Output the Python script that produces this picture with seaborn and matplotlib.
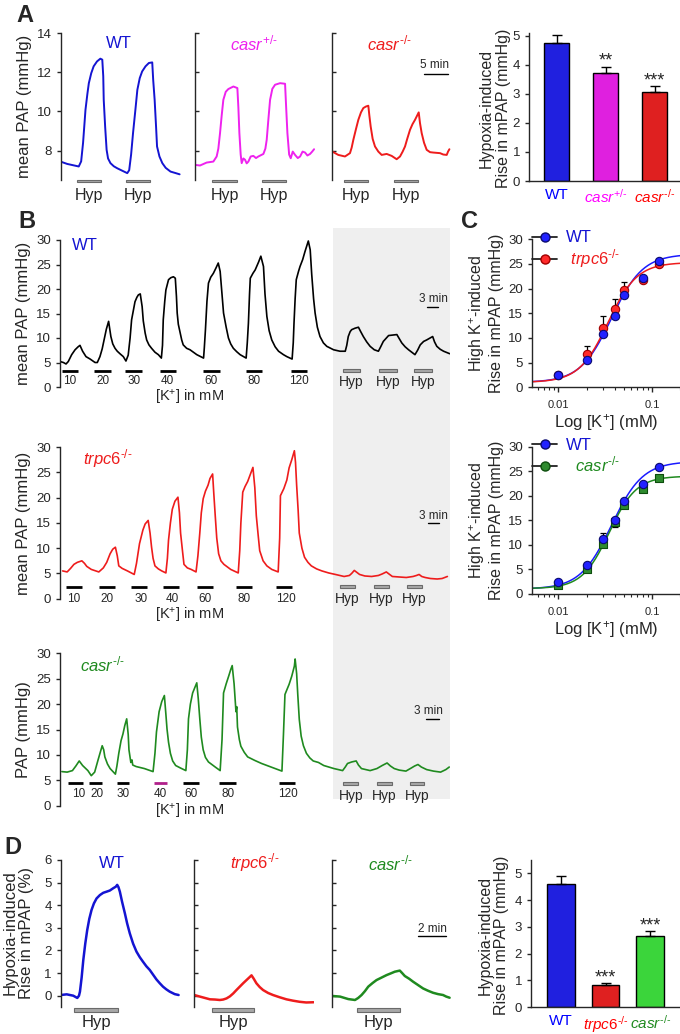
import numpy as np
import matplotlib
matplotlib.use("Agg")
import matplotlib.pyplot as plt
from matplotlib.patches import Rectangle
from matplotlib.lines import Line2D
from matplotlib.ticker import LogLocator, NullFormatter
import seaborn as sns

sns.set_style("ticks")
plt.rcParams["font.family"] = ["Liberation Sans", "DejaVu Sans"]
plt.rcParams["mathtext.fontset"] = "custom"
plt.rcParams["mathtext.rm"] = "Liberation Sans"
plt.rcParams["mathtext.it"] = "Liberation Sans:italic"
plt.rcParams["mathtext.bf"] = "Liberation Sans:bold"
plt.rcParams["axes.linewidth"] = 1.0

BLUE = "#1414d2"
MAG = "#ee22ee"
RED = "#ee1c1c"
GREEN = "#1f8a1f"
LGREEN = "#22ee22"
BAR_GRAY = "#a8a8a8"

# ---------------- panel A traces: (time in min, mean PAP in mmHg)
a_wt = [(0, 7.44), (1.4, 7.32), (3.8, 7.19), (4.3, 7.45), (4.7, 8.4), (5.2, 10.08), (5.6, 10.9),
        (5.9, 11.44), (6.4, 11.95), (6.9, 12.3), (7.6, 12.55), (8.3, 12.69), (8.7, 12.64),
        (8.9, 11.8), (9.0, 10.59), (9.3, 9.2), (9.6, 8.04), (9.9, 7.6), (10.4, 7.36), (11.1, 7.2),
        (11.8, 7.1), (12.8, 6.98), (13.9, 6.85), (14.3, 7.0), (14.7, 7.8), (15.1, 8.89),
        (15.6, 10.1), (16.0, 11.1), (16.5, 11.7), (17.0, 12.04), (17.7, 12.3), (18.4, 12.47),
        (19.1, 12.5), (19.3, 11.6), (19.6, 10.59), (19.9, 9.2), (20.1, 8.21), (20.6, 7.7),
        (21.2, 7.36), (21.9, 7.12), (22.9, 6.93), (24.0, 6.85), (24.8, 6.79)]
a_het = [(0, 7.27), (1.04, 7.24), (2.43, 7.39), (3.82, 7.44), (4.51, 7.7), (4.86, 8.1),
         (5.21, 8.89), (5.56, 9.8), (5.9, 10.59), (6.4, 11.0), (6.94, 11.14), (7.99, 11.27),
         (8.82, 11.19), (9.03, 10.2), (9.24, 8.89), (9.51, 7.8), (9.72, 7.36), (10.07, 7.6),
         (10.42, 7.53), (10.76, 7.35), (11.11, 7.44), (11.6, 7.7), (12.15, 7.73), (12.7, 7.62),
         (13.19, 7.7), (14.24, 7.83), (14.65, 8.1), (14.93, 8.55), (15.28, 9.6), (15.63, 10.59),
         (16.1, 11.15), (16.67, 11.36), (17.71, 11.44), (18.75, 11.41), (18.96, 10.3),
         (19.24, 8.89), (19.6, 7.8), (19.93, 7.61), (20.35, 7.95), (20.83, 7.78), (21.4, 7.62),
         (21.88, 7.7), (22.4, 7.95), (22.92, 7.9), (23.4, 7.75), (23.96, 7.83), (24.4, 7.95),
         (24.79, 8.07)]
a_ko = [(0, 7.95), (1.25, 7.78), (2.64, 7.7), (3.68, 7.87), (4.03, 8.15), (4.38, 8.55),
        (4.93, 9.1), (5.42, 9.57), (5.97, 9.95), (6.46, 10.17), (7.01, 10.25), (7.5, 10.29),
        (7.71, 9.8), (7.99, 9.23), (8.4, 8.6), (8.89, 8.21), (9.58, 7.95), (10.28, 7.78),
        (11.32, 7.83), (12.36, 7.73), (13.4, 7.56), (14.1, 7.7), (14.65, 7.95), (15.14, 8.21),
        (15.6, 8.6), (16.18, 9.06), (16.7, 9.35), (17.22, 9.57), (17.99, 9.95), (18.26, 9.4),
        (18.61, 8.89), (19.1, 8.4), (19.65, 8.04), (20.35, 7.92), (21.04, 7.9), (22.43, 7.87),
        (23.1, 7.8), (23.82, 7.78), (24.1, 7.95), (24.38, 8.07)]
a_hyp = [[(3.5, 8.5), (13.6, 18.6)], [(3.6, 8.7), (13.9, 18.9)], [(2.5, 7.5), (12.9, 17.9)]]

# panel A bars
a_groups = ["WT", "casr+/-", "casr-/-"]
a_labels = ["WT", r"$\mathit{casr}^{\text{+/-}}$", r"$\mathit{casr}^{\text{-/-}}$"]
a_vals = [4.75, 3.72, 3.07]
a_err = [0.27, 0.21, 0.19]
a_stars = ["", "**", "***"]

# ---------------- panel B traces: (time in min, PAP in mmHg)
b_wt = [(0.0, 5.2), (0.9, 5.0), (1.6, 4.7), (2.2, 5.2), (3.1, 6.6), (4.0, 7.6), (4.8, 8.2),
        (5.3, 8.5), (6.0, 7.3), (6.9, 6.2), (8.0, 5.7), (9.3, 5.0), (9.9, 5.0), (10.6, 6.2),
        (11.2, 7.8), (11.7, 9.6), (12.3, 11.8), (12.9, 13.4), (13.5, 10.3), (14.0, 8.8),
        (14.6, 7.9), (15.2, 7.3), (15.9, 6.8), (16.8, 6.2), (17.5, 5.3), (18.1, 6.5), (18.6, 10.0),
        (19.0, 13.7), (19.5, 15.8), (19.9, 17.4), (20.4, 18.3), (20.8, 18.8), (21.3, 19.0),
        (21.8, 16.4), (22.1, 13.5), (22.6, 11.0), (23.0, 9.6), (23.6, 8.6), (24.3, 7.9),
        (25.2, 7.1), (26.1, 6.6), (26.9, 5.9), (27.2, 8.5), (27.4, 13.7), (27.8, 17.5),
        (28.1, 19.8), (28.8, 21.9), (29.4, 22.3), (30.1, 22.5), (30.6, 22.2), (30.9, 18.5),
        (31.1, 15.1), (31.4, 12.8), (31.9, 11.0), (32.3, 9.6), (32.7, 8.6), (33.6, 7.9),
        (34.5, 7.6), (36.3, 6.6), (38.1, 5.9), (38.3, 8.0), (38.6, 11.7), (39.0, 17.5),
        (39.4, 21.2), (40.0, 22.4), (40.7, 23.2), (41.4, 24.3), (42.0, 25.3), (42.5, 23.6),
        (43.0, 19.0), (43.4, 15.1), (44.1, 12.2), (44.7, 10.0), (45.3, 8.8), (46.0, 7.9),
        (46.9, 7.2), (47.8, 6.6), (49.4, 5.9), (49.7, 9.0), (50.0, 13.0), (50.3, 19.0),
        (50.5, 22.2), (51.2, 23.2), (51.8, 23.9), (52.7, 25.5), (53.3, 26.7), (54.0, 24.6),
        (54.4, 19.0), (54.9, 14.4), (55.5, 11.5), (56.2, 9.6), (57.1, 8.2), (58.0, 7.3),
        (59.3, 6.6), (60.2, 6.2), (61.6, 5.7), (61.9, 9.0), (62.1, 13.0), (62.4, 18.0),
        (62.7, 21.9), (63.3, 23.6), (63.7, 24.6), (64.4, 26.0), (65.0, 27.6), (65.9, 29.8),
        (66.4, 28.0), (66.8, 23.0), (67.3, 18.0), (67.7, 15.1), (68.3, 12.2), (69.0, 10.3),
        (69.9, 9.0), (70.8, 8.3), (72.6, 7.6), (74.3, 7.3), (75.7, 7.3), (76.1, 8.5), (76.5, 10.3),
        (77.0, 11.3), (77.4, 11.7), (78.3, 12.0), (79.2, 12.2), (79.8, 11.3), (80.5, 10.3),
        (81.4, 9.2), (82.3, 8.3), (83.4, 7.6), (84.5, 7.3), (85.1, 8.2), (85.8, 9.3), (87.2, 10.5),
        (89.4, 10.7), (90.1, 9.8), (90.7, 9.0), (91.6, 8.2), (92.5, 7.6), (94.2, 6.6), (94.9, 7.5),
        (95.6, 8.6), (96.5, 9.3), (97.3, 9.6), (98.9, 10.3), (99.4, 9.2), (100.0, 8.3),
        (100.9, 7.7), (101.8, 7.3), (103.4, 6.8)]
b_trpc6 = [(0.7, 5.5), (1.9, 5.3), (2.8, 6.0), (3.7, 6.8), (4.6, 7.2), (5.8, 7.5), (6.5, 7.0),
           (7.1, 6.4), (8.3, 5.8), (10.3, 5.3), (11.5, 6.1), (12.4, 7.2), (13.3, 8.9), (14.0, 9.8),
           (14.7, 10.2), (15.2, 8.5), (15.6, 6.5), (16.5, 6.0), (17.9, 5.5), (19.7, 4.8),
           (20.3, 7.0), (21.1, 10.9), (22.0, 13.6), (22.6, 14.8), (23.4, 15.5), (23.9, 13.0),
           (24.3, 10.2), (24.7, 8.0), (25.2, 6.5), (26.1, 5.9), (27.0, 5.5), (28.1, 5.1),
           (28.5, 8.0), (28.8, 11.6), (29.3, 15.0), (29.8, 17.7), (30.5, 19.3), (31.3, 20.1),
           (31.7, 17.0), (32.0, 13.0), (32.5, 9.5), (32.9, 6.8), (33.8, 6.1), (34.8, 5.8),
           (36.1, 5.3), (36.6, 8.5), (37.1, 13.0), (37.5, 17.0), (38.0, 19.8), (38.6, 21.3),
           (39.3, 22.5), (39.8, 23.8), (40.5, 24.7), (40.8, 21.0), (41.2, 16.4), (41.6, 12.0),
           (42.1, 8.9), (42.7, 7.5), (43.5, 6.8), (45.3, 5.8), (47.3, 5.1), (47.7, 9.5),
           (48.0, 15.0), (48.5, 21.1), (49.1, 22.2), (49.8, 23.2), (50.6, 24.8), (51.2, 26.0),
           (51.7, 22.0), (52.1, 16.4), (52.6, 12.5), (53.0, 9.5), (53.9, 7.5), (54.9, 6.5),
           (56.2, 5.8), (57.9, 5.3), (58.3, 12.0), (58.5, 20.4), (59.4, 21.8), (60.2, 23.5),
           (60.8, 25.9), (61.5, 27.5), (62.2, 29.3), (62.5, 27.0), (62.8, 22.5), (63.2, 17.5),
           (63.5, 13.0), (64.2, 10.0), (64.9, 8.2), (65.8, 7.2), (66.7, 6.5), (68.1, 5.9),
           (69.5, 5.5), (71.3, 5.1), (73.1, 4.8), (75.4, 4.4), (76.8, 4.6), (77.4, 5.0),
           (78.1, 5.6), (78.8, 5.2), (79.5, 4.8), (80.9, 4.5), (82.7, 4.4), (84.5, 4.6),
           (85.5, 4.9), (86.6, 5.3), (87.3, 4.9), (88.2, 4.4), (90.0, 4.3), (91.9, 4.2),
           (93.7, 4.4), (94.6, 4.6), (95.3, 4.8), (96.0, 4.4), (96.9, 4.2), (98.3, 4.0),
           (100.1, 3.9), (101.4, 4.0), (102.8, 4.4)]
b_casr = [(0.5, 6.7), (1.9, 6.6), (3.3, 6.9), (4.2, 7.8), (5.1, 8.8), (6.0, 7.9), (7.4, 6.9),
          (8.3, 5.9), (9.2, 6.6), (10.1, 9.0), (10.8, 10.8), (11.2, 11.8), (11.6, 11.0),
          (11.9, 9.6), (12.6, 8.2), (13.3, 7.3), (14.7, 6.2), (15.1, 7.8), (15.6, 10.3),
          (16.2, 12.8), (16.7, 14.1), (17.2, 15.8), (17.7, 17.1), (18.1, 14.0), (18.3, 11.0),
          (18.8, 8.5), (19.1, 9.0), (19.3, 8.0), (20.2, 7.7), (22.4, 7.3), (24.7, 6.7),
          (25.2, 10.3), (25.6, 14.5), (26.3, 18.5), (27.0, 20.5), (27.7, 21.7), (28.1, 18.0),
          (28.4, 15.1), (28.8, 12.5), (29.3, 10.3), (29.9, 8.8), (30.7, 7.9), (32.0, 7.4),
          (33.4, 6.9), (33.8, 11.0), (34.1, 17.1), (34.6, 20.0), (35.2, 22.2), (35.8, 23.3),
          (36.3, 24.2), (36.7, 21.0), (37.1, 17.1), (37.5, 13.5), (38.0, 11.0), (38.6, 9.5),
          (39.4, 8.6), (41.2, 7.6), (42.5, 6.9), (43.0, 13.0), (43.4, 22.2), (44.1, 24.0),
          (44.8, 25.6), (45.3, 26.8), (45.7, 27.6), (46.2, 24.0), (46.7, 18.5), (46.9, 19.5),
          (47.1, 15.5), (47.6, 13.0), (48.0, 11.7), (48.9, 10.5), (49.8, 9.6), (51.7, 8.9),
          (53.5, 8.3), (55.3, 7.8), (57.1, 7.3), (58.9, 6.8), (59.3, 14.0), (59.7, 21.9),
          (60.3, 23.0), (60.8, 23.9), (61.5, 25.5), (62.2, 27.5), (62.4, 28.9), (62.8, 26.0),
          (63.1, 21.9), (63.5, 17.0), (64.0, 13.7), (64.6, 11.8), (65.4, 10.3), (66.3, 9.4),
          (67.2, 8.8), (68.6, 8.5), (70.0, 7.9), (72.7, 7.3), (75.0, 6.9), (75.7, 7.6),
          (76.3, 8.3), (77.4, 8.6), (78.6, 8.8), (79.2, 8.0), (80.0, 7.3), (82.3, 6.9),
          (84.1, 7.3), (85.5, 7.9), (86.8, 8.4), (87.7, 7.8), (88.7, 7.3), (90.0, 7.0),
          (91.8, 6.8), (93.2, 7.4), (94.1, 7.8), (95.0, 8.1), (95.9, 7.6), (97.3, 7.1),
          (99.1, 6.8), (101.0, 6.6), (102.4, 7.1), (103.3, 7.6)]

k_names = ["10", "20", "30", "40", "60", "80", "120"]
b_wt_k = [(0.5, 4.8), (9.0, 13.5), (17.2, 21.8), (26.5, 30.8), (37.9, 42.4), (49.3, 53.6), (61.3, 65.5)]
b_wt_klab = [2.65, 11.4, 19.7, 28.6, 40.2, 51.5, 63.4]
b_wt_hyp = [(75.1, 79.6), (84.6, 89.4), (93.9, 98.7)]
b_trpc6_k = [(1.6, 5.8), (10.3, 14.5), (18.8, 23.1), (27.4, 31.7), (36.3, 40.5), (46.7, 51.0), (57.4, 61.7)]
b_trpc6_klab = [3.7, 12.4, 21.4, 29.8, 38.6, 48.9, 59.9]
b_trpc6_hyp = [(74.3, 78.3), (83.4, 87.3), (92.1, 96.1)]
b_casr_k = [(2.2, 6.0), (7.7, 11.2), (15.0, 18.2), (25.0, 28.4), (32.7, 36.8), (42.3, 46.7), (58.2, 62.4)]
b_casr_klab = [4.9, 9.7, 16.7, 26.7, 34.8, 44.5, 60.6]
b_casr_hyp = [(75.2, 79.1), (84.1, 88.0), (92.8, 96.7)]

# ---------------- panel C: concentration-response and Hill fits
c_conc = [0.01, 0.02, 0.03, 0.04, 0.05, 0.08, 0.12]
c1_wt = [2.5, 5.5, 10.9, 14.5, 18.7, 22.1, 25.7]
c1_wt_lo = [0, 0.6, 1.5, 1.2, 0, 0, 0]
c1_trpc6 = [2.5, 6.7, 12.1, 15.9, 19.7, 21.8, 24.9]
c1_trpc6_hi = [0, 1.7, 2.4, 2.0, 1.6, 0.4, 0]
c2_wt = [2.5, 5.9, 11.1, 15.1, 18.9, 22.5, 25.8]
c2_wt_hi = [0, 0, 1.3, 0, 0, 0, 0]
c2_wt_lo = [0, 0, 0, 1.5, 0, 0, 0]
c2_casr = [1.8, 5.0, 10.2, 14.7, 18.1, 21.4, 23.6]
# (bottom, top, EC50, slope)
fit_wt = (1.0, 27.0, 0.037, 2.6)
fit_trpc6 = (1.0, 25.3, 0.034, 2.8)
fit_casr = (1.1, 24.0, 0.035, 3.0)

# ---------------- panel D traces: (time in min, % rise)
d_wt = [(0, 0.03), (0.43, 0.06), (0.9, 0), (1.19, -0.1), (1.31, 0.0), (1.38, 0.18), (1.5, 0.8),
        (1.62, 1.58), (1.76, 2.3), (1.9, 2.9), (2.05, 3.4), (2.21, 3.79), (2.38, 4.08),
        (2.57, 4.3), (2.81, 4.45), (3.05, 4.55), (3.29, 4.6), (3.52, 4.65), (3.76, 4.75),
        (3.95, 4.82), (4.05, 4.9), (4.14, 4.8), (4.24, 4.6), (4.4, 4.15), (4.6, 3.64),
        (4.76, 3.2), (4.95, 2.76), (5.19, 2.3), (5.43, 1.95), (5.67, 1.7), (5.9, 1.5),
        (6.14, 1.3), (6.38, 1.14), (6.62, 0.93), (6.86, 0.72), (7.1, 0.55), (7.33, 0.4),
        (7.57, 0.28), (7.81, 0.18), (8.17, 0.07), (8.45, 0.03)]
d_trpc6 = [(0, 0.03), (0.4, -0.04), (0.76, -0.1), (1.12, -0.16), (1.48, -0.17), (1.83, -0.19),
           (2.07, -0.17), (2.31, -0.12), (2.55, -0.03), (2.79, 0.1), (3.02, 0.25), (3.26, 0.4),
           (3.5, 0.55), (3.74, 0.69), (3.93, 0.8), (4.1, 0.9), (4.26, 0.75), (4.45, 0.55),
           (4.69, 0.38), (4.93, 0.25), (5.29, 0.12), (5.64, 0.03), (6.12, -0.07), (6.6, -0.16),
           (7.07, -0.22), (7.55, -0.27), (8.02, -0.3), (8.55, -0.29)]
d_casr = [(0, -0.01), (0.6, -0.04), (1.19, -0.15), (1.67, -0.19), (1.9, -0.1), (2.14, 0.03),
          (2.38, 0.2), (2.62, 0.4), (2.93, 0.56), (3.21, 0.69), (3.57, 0.8), (3.93, 0.91),
          (4.21, 0.98), (4.52, 1.06), (4.88, 1.11), (5.05, 1.0), (5.24, 0.87), (5.55, 0.75),
          (5.83, 0.62), (6.19, 0.47), (6.55, 0.32), (6.9, 0.22), (7.26, 0.13), (7.62, 0.07),
          (7.98, 0.03), (8.21, -0.04), (8.45, -0.09)]
d_hyp = [(0.95, 4.14), (1.29, 4.29), (1.79, 4.93)]

# panel D bars
d_groups = ["WT", "trpc6-/-", "casr-/-"]
d_labels = ["WT", r"$\mathit{trpc6}^{\text{-/-}}$", r"$\mathit{casr}^{\text{-/-}}$"]
d_vals = [4.59, 0.83, 2.64]
d_err = [0.32, 0.07, 0.20]
d_stars = ["", "***", "***"]

# ---------------- figure helpers (pixel layout)
W, H = 680, 1034
fig = plt.figure(figsize=(6.8, 10.34), dpi=100)


def add_ax(left, top, right, bottom):
    return fig.add_axes([left / W, 1 - bottom / H, (right - left) / W, (bottom - top) / H])


def ftext(x, y, s, **kw):
    return fig.text(x / W, 1 - y / H, s, **kw)


def trace_style(ax, first, ticks, ylim, xlim):
    ax.set_xlim(xlim)
    ax.set_ylim(ylim)
    ax.set_yticks(ticks)
    ax.set_xticks([])
    for s in ["top", "right", "bottom"]:
        ax.spines[s].set_visible(False)
    ax.patch.set_visible(False)
    ax.tick_params(axis="y", direction="out" if first else "in", length=3, width=1,
                   labelsize=9.5, labelleft=first)
    ax.set_xlabel("")
    ax.set_ylabel("")


def draw_trace(ax, pts, color, lw):
    t, v = zip(*pts)
    sns.lineplot(x=list(t), y=list(v), ax=ax, color=color, linewidth=lw, sort=False)
    ax.lines[-1].set_solid_joinstyle("round")


def hyp_bar(ax, t0, t1, y0, h):
    ax.add_patch(Rectangle((t0, y0), t1 - t0, h, facecolor=BAR_GRAY, edgecolor="#6a6a6a",
                           linewidth=0.8, clip_on=False, zorder=3))


def ylabel2(x1, x2, y, l1, l2, size):
    ftext(x1, y, l1, rotation=90, ha="center", va="center", fontsize=size)
    ftext(x2, y, l2, rotation=90, ha="center", va="center", fontsize=size)


# gray background behind the hypoxia part of B
fig.add_artist(Rectangle((333 / W, 1 - 799 / H), 117 / W, 571 / H, transform=fig.transFigure,
                         facecolor="#efefef", edgecolor="none", zorder=-1))

# ================= Panel A traces
a_traces = [(a_wt, BLUE), (a_het, MAG), (a_ko, RED)]
a_lefts = [60.5, 195, 332.3]
a_axes = []
for i, (pts, c) in enumerate(a_traces):
    ax = add_ax(a_lefts[i], 33, a_lefts[i] + 122, 180)
    draw_trace(ax, pts, c, 1.4)
    trace_style(ax, i == 0, [8, 10, 12, 14], (6.5, 14), (0, 25.4))
    for t0, t1 in a_hyp[i]:
        hyp_bar(ax, t0, t1, 6.38, 0.14)
        ax.text((t0 + t1) / 2, 5.72, "Hyp", ha="center", va="center", fontsize=11.5, clip_on=False)
    a_axes.append(ax)
a_axes[2].plot([19, 24], [11.9, 11.9], color="black", lw=1)
ftext(435, 65, "5 min", ha="center", va="center", fontsize=8.5)
ftext(25, 106, "mean PAP (mmHg)", rotation=90, ha="center", va="center", fontsize=12)
ftext(118.7, 43, "WT", ha="center", va="center", fontsize=12, color=BLUE)
ftext(254, 43, r"$\mathit{casr}^{\text{+/-}}$", ha="center", va="center", fontsize=12, color=MAG)
ftext(389, 43, r"$\mathit{casr}^{\text{-/-}}$", ha="center", va="center", fontsize=12, color=RED)
ftext(25, 15, "A", ha="center", va="center", fontsize=17, fontweight="bold")


def bar_panel(ax, groups, labels, vals, errs, colors, stars, width, ylim, xlim, ticks, lab_colors):
    sns.barplot(x=groups, y=vals, hue=groups, palette=colors, ax=ax, width=width,
                edgecolor="black", linewidth=1, legend=False)
    ax.errorbar(range(len(vals)), vals, yerr=[[0] * len(vals), errs], fmt="none",
                ecolor="black", elinewidth=1, capsize=3.5, capthick=1)
    for i, s in enumerate(stars):
        if s:
            ax.text(i, vals[i] + errs[i] + 0.2, s, ha="center", va="center", fontsize=13)
    ax.set_ylim(ylim)
    ax.set_xlim(xlim)
    ax.set_yticks(ticks)
    ax.set_xticks(range(len(labels)))
    ax.set_xticklabels(labels, fontsize=11)
    for lab, c in zip(ax.get_xticklabels(), lab_colors):
        lab.set_color(c)
    ax.tick_params(axis="x", length=0, pad=5)
    ax.tick_params(axis="y", length=3, width=1, labelsize=9.5)
    ax.spines["top"].set_visible(False)
    ax.spines["right"].set_visible(False)
    ax.patch.set_visible(False)
    ax.set_ylabel("")


# ================= Panel A bars
ax = add_ax(529, 33, 680, 181)
bar_panel(ax, a_groups, a_labels, a_vals, a_err, ["#0000ff", "#ff00ff", "#ff0000"], a_stars,
          0.51, (0, 5.1), (-0.57, 2.52), [0, 1, 2, 3, 4, 5], ["#0000ff", "#ff00ff", "#ff0000"])
ylabel2(486.7, 503.3, 108, "Hypoxia-induced", "Rise in mPAP (mmHg)", 11.5)

# ================= Panel B traces
b_rows = [
    (240, 387, b_wt, "black", b_wt_k, b_wt_klab, b_wt_hyp, 3.3, 1.15, -2.2, 0.95,
     (97.3, 100.3, 16.3), (433, 299), "mean PAP (mmHg)", "WT", BLUE, (72, 245)),
    (447.2, 598.7, b_trpc6, RED, b_trpc6_k, b_trpc6_klab, b_trpc6_hyp, 2.4, 0.0, -3.4,
     -0.14, (97.6, 100.5, 15.0), (433, 516), "mean PAP (mmHg)", r"$\mathit{trpc6}^{\text{-/-}}$",
     RED, (83, 459)),
    (653.4, 805.6, b_casr, GREEN, b_casr_k, b_casr_klab, b_casr_hyp, 4.4, 2.3, -1.2,
     1.8, (97.2, 100.6, 17.1), (428.7, 711), "PAP (mmHg)", r"$\mathit{casr}^{\text{-/-}}$",
     GREEN, (80, 664)),
]
for row_i, (top, bot, pts, c, kb, kl, hb, ky, kly, kxy, hly, sbar, stxt, ylab, title, tcol,
            tpos) in enumerate(b_rows):
    ax = add_ax(60, top, 450, bot)
    draw_trace(ax, pts, c, 1.2)
    trace_style(ax, True, [0, 5, 10, 15, 20, 25, 30], (0, 30), (0, 103.5))
    for j, (t0, t1) in enumerate(kb):
        kcol = "#b0208a" if (row_i == 2 and j == 3) else "black"
        ax.plot([t0, t1], [ky, ky], color=kcol, lw=2, solid_capstyle="butt", clip_on=False)
        ax.text(kl[j], kly, k_names[j], ha="center", va="center", fontsize=8.5, clip_on=False)
    ax.text(34.3, kxy, "[K$^{+}$] in mM", ha="center", va="center", fontsize=10.5, clip_on=False)
    for t0, t1 in hb:
        hyp_bar(ax, t0, t1, ky - 0.32, 0.64)
        ax.text((t0 + t1) / 2, hly, "Hyp", ha="center", va="center", fontsize=10, clip_on=False)
    ax.plot([sbar[0], sbar[1]], [sbar[2], sbar[2]], color="black", lw=1)
    ftext(stxt[0], stxt[1], "3 min", ha="center", va="center", fontsize=8.5)
    ftext(24, (top + bot) / 2, ylab, rotation=90, ha="center", va="center", fontsize=12)
    ftext(tpos[0], tpos[1], title, ha="left", va="center", fontsize=12, color=tcol)
ftext(27, 222, "B", ha="center", va="center", fontsize=17, fontweight="bold")


# ================= Panel C
def hill(x, p):
    b, t, ec, n = p
    return b + (t - b) / (1 + (ec / x) ** n)


xfit = np.logspace(np.log10(0.00526), np.log10(0.2), 200)
c_sets = [
    (239.3, 387.3, c1_wt, ([0] * 7, c1_wt_lo), c1_trpc6, (c1_trpc6_hi, [0] * 7), fit_trpc6, RED,
     "#a00000", "o", " " + r"$\mathit{trpc6}^{\text{-/-}}$", "#ff2a2a"),
    (446.7, 594, c2_wt, (c2_wt_lo, c2_wt_hi), c2_casr, None, fit_casr, GREEN, "#0d4d0d", "s",
     "  " + r"$\mathit{casr}^{\text{-/-}}$", "#2e8b2e"),
]
for top, bot, wt, wt_err, ko, ko_err, ko_fit, kcol, kedge, kmark, klab, kface in c_sets:
    ax = add_ax(532.3, top, 680, bot)
    ax.set_xscale("log")
    sns.lineplot(x=xfit, y=hill(xfit, fit_wt), ax=ax, color="#1a1aff", linewidth=1.1, zorder=2)
    sns.lineplot(x=xfit, y=hill(xfit, ko_fit), ax=ax, color=kcol, linewidth=1.1, zorder=2)
    ax.errorbar(c_conc, wt, yerr=[wt_err[0], wt_err[1]], fmt="none", ecolor="black",
                elinewidth=0.9, capsize=2, capthick=0.9, zorder=3)
    if ko_err is not None:
        ax.errorbar(c_conc, ko, yerr=[ko_err[1], ko_err[0]], fmt="none", ecolor="black",
                    elinewidth=0.9, capsize=2, capthick=0.9, zorder=3)
    sns.scatterplot(x=c_conc, y=ko, ax=ax, marker=kmark, s=36, color=kface, edgecolor=kedge,
                    linewidth=0.8, zorder=4)
    sns.scatterplot(x=c_conc, y=wt, ax=ax, marker="o", s=36, color="#2222ff", edgecolor="#0a0a70",
                    linewidth=0.8, zorder=5)
    ax.set_xlim(0.00526, 0.2)
    ax.set_ylim(0, 30)
    ax.set_yticks([0, 5, 10, 15, 20, 25, 30])
    ax.set_xticks([0.01, 0.1])
    ax.set_xticklabels(["0.01", "0.1"])
    ax.xaxis.set_minor_locator(LogLocator(base=10, subs=np.arange(2, 10), numticks=20))
    ax.xaxis.set_minor_formatter(NullFormatter())
    ax.tick_params(axis="x", which="major", length=3.5, width=1, labelsize=8, pad=6)
    ax.tick_params(axis="x", which="minor", length=2, width=0.8)
    ax.tick_params(axis="y", length=3, width=1, labelsize=9.5)
    ax.spines["top"].set_visible(False)
    ax.spines["right"].set_visible(False)
    ax.patch.set_visible(False)
    ax.set_xlabel("Log [K$^{+}$] (mM)", fontsize=12, labelpad=1)
    ax.set_ylabel("")
    handles = [
        Line2D([], [], color="#222222", lw=1.3, marker="o", markersize=6.5,
               markerfacecolor="#2222ff", markeredgecolor="#0a0a70"),
        Line2D([], [], color="#222222", lw=1.3, marker="o", markersize=6.5,
               markerfacecolor=kface, markeredgecolor=kedge),
    ]
    leg = ax.legend(handles, ["WT", klab], loc="upper left", bbox_to_anchor=(0.0, 1.06),
                    frameon=False, fontsize=12, handlelength=1.5, handletextpad=0.5,
                    labelspacing=0.1, borderpad=0, borderaxespad=0)
    leg.get_texts()[0].set_color(BLUE)
    leg.get_texts()[1].set_color(kcol)
    ylabel2(477, 497, (top + bot) / 2, "High K$^{+}$-induced", "Rise in mPAP (mmHg)", 11.5)
ftext(470, 222, "C", ha="center", va="center", fontsize=17, fontweight="bold")

# ================= Panel D traces
d_traces = [(d_wt, BLUE), (d_trpc6, RED), (d_casr, GREEN)]
d_lefts = [60.7, 194.3, 331.7]
d_axes = []
for i, (pts, c) in enumerate(d_traces):
    ax = add_ax(d_lefts[i], 860, d_lefts[i] + 120, 1007)
    draw_trace(ax, pts, c, 1.8)
    trace_style(ax, i == 0, [0, 1, 2, 3, 4, 5, 6], (-0.5, 6), (0, 8.6))
    t0, t1 = d_hyp[i]
    hyp_bar(ax, t0, t1, -0.7, 0.14)
    ax.text((t0 + t1) / 2, -1.2, "Hyp", ha="center", va="center", fontsize=12, clip_on=False)
    d_axes.append(ax)
d_axes[2].plot([6.16, 8.2], [2.64, 2.64], color="black", lw=1)
ftext(432, 929, "2 min", ha="center", va="center", fontsize=8.5)
ylabel2(10, 27, 933, "Hypoxia-induced", "Rise in mPAP (%)", 12)
ftext(111.7, 863, "WT", ha="center", va="center", fontsize=12, color=BLUE)
ftext(255, 863, r"$\mathit{trpc6}^{\text{-/-}}$", ha="center", va="center", fontsize=12, color=RED)
ftext(390, 863, r"$\mathit{casr}^{\text{-/-}}$", ha="center", va="center", fontsize=12, color=GREEN)
ftext(13, 847, "D", ha="center", va="center", fontsize=17, fontweight="bold")

# ================= Panel D bars
ax = add_ax(531, 860, 680, 1007)
bar_panel(ax, d_groups, d_labels, d_vals, d_err, ["#0000ff", "#ff0000", LGREEN], d_stars,
          0.62, (0, 5.5), (-0.67, 2.67), [0, 1, 2, 3, 4, 5], ["#0000ff", "#ff0000", GREEN])
ylabel2(485, 501.7, 935, "Hypoxia-induced", "Rise in mPAP (mmHg)", 11.5)

fig.savefig("out.png", dpi=100)
